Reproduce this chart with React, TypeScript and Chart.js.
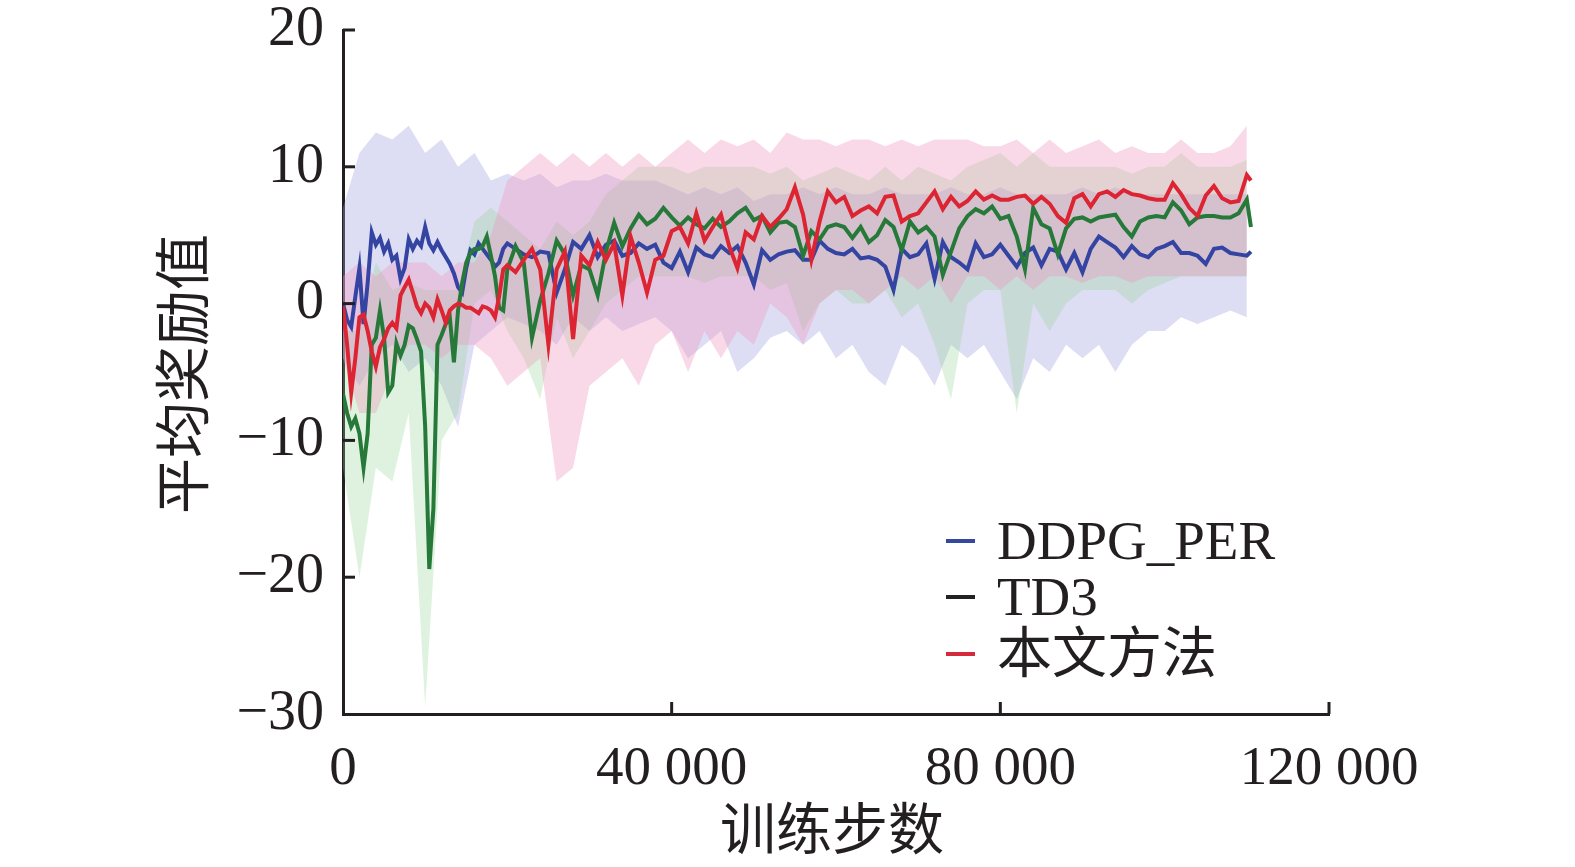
import React, { useEffect, useRef } from 'react';
import Chart from 'chart.js/auto';

// training steps for the mean curves (0.5k spacing to 20k, then 1k)
const steps = [
  0, 500, 1000, 1500, 2000, 2500, 3000, 3500, 4000, 4500,
  5000, 5500, 6000, 6500, 7000, 7500, 8000, 8500, 9000, 9500,
  10000, 10500, 11000, 11500, 12000, 12500, 13000, 13500, 14000, 14500,
  15000, 15500, 16000, 16500, 17000, 17500, 18000, 18500, 19000, 19500,
  20000,
  21000, 22000, 23000, 24000, 25000, 26000, 27000, 28000, 29000, 30000,
  31000, 32000, 33000, 34000, 35000, 36000, 37000, 38000, 39000, 40000,
  41000, 42000, 43000, 44000, 45000, 46000, 47000, 48000, 49000, 50000,
  51000, 52000, 53000, 54000, 55000, 56000, 57000, 58000, 59000, 60000,
  61000, 62000, 63000, 64000, 65000, 66000, 67000, 68000, 69000, 70000,
  71000, 72000, 73000, 74000, 75000, 76000, 77000, 78000, 79000, 80000,
  81000, 82000, 83000, 84000, 85000, 86000, 87000, 88000, 89000, 90000,
  91000, 92000, 93000, 94000, 95000, 96000, 97000, 98000, 99000, 100000,
  101000, 102000, 103000, 104000, 105000, 106000, 107000, 108000, 109000, 110000,
  110500
];

const ddpgPer = [
  0, -1.2, -1.7, 0.5, 2.6, -1.5, 1.5, 5.2, 4.3, 4.8,
  3.8, 4.4, 3.2, 3.5, 1.8, 2.6, 4.7, 4.0, 4.6, 4.2,
  5.6, 4.4, 3.9, 4.5, 3.9, 3.4, 2.9, 2.2, 1.2, 0.8,
  2.6, 3.9, 3.6, 4.4, 4.0, 3.6, 3.2, 2.7, 3.0, 4.0,
  4.4,
  4.0, 3.6, 3.4, 3.8, 3.7, 0.8, 2.5, 4.5, 4.0, 5.0,
  3.4, 4.3, 4.6, 3.5, 3.7, 4.4, 4.0, 4.3, 3.0, 2.6,
  3.8, 2.3, 4.1, 3.6, 3.4, 4.2, 3.7, 4.2, 3.0, 1.4,
  3.9, 3.2, 3.6, 3.8, 3.9, 3.2, 3.2, 4.6, 4.0, 3.7,
  3.6, 4.0, 3.3, 3.4, 3.2, 2.7, 1.0, 4.0, 3.4, 3.6,
  4.4, 1.8, 4.5, 3.4, 3.0, 2.5, 4.4, 3.4, 3.6, 4.3,
  3.5, 2.7, 3.7, 4.1, 2.8, 4.0, 3.8, 2.5, 3.7, 2.3,
  4.0, 4.9, 4.5, 4.1, 3.4, 4.2, 3.6, 3.4, 4.0, 4.2,
  4.5, 3.7, 3.7, 3.5, 2.9, 4.0, 4.1, 3.7, 3.6, 3.5,
  3.8
];

const td3 = [
  -6.6, -8.0, -9.0, -8.4, -9.5, -12.0, -9.5, -3.0, -2.5, -0.5,
  -2.5, -6.5, -6.0, -2.9, -3.8, -3.0, -1.6, -1.8, -2.6, -3.5,
  -9.0, -19.4, -15.0, -3.0, -2.3, -1.5, -1.0, -4.3, -0.5, 1.5,
  3.0, 3.7, 4.0, 4.0, 4.2, 4.9, 3.5, 2.0, -0.3, -0.5,
  2.5,
  4.2, 3.0, -2.5, 0.2, 2.2, 4.6, 3.6, 0.6, 2.8, 2.5,
  0.6, 3.8, 5.9, 4.2, 5.5, 6.5, 5.8, 6.2, 7.0, 6.3,
  5.7, 6.3, 5.8, 5.5, 6.2, 5.6, 6.0, 6.6, 7.0, 6.1,
  6.4, 5.2, 5.9, 6.0, 5.6, 3.5, 5.3, 4.7, 5.6, 5.8,
  5.6, 4.8, 5.6, 4.5, 5.0, 6.1, 5.6, 3.9, 6.0, 5.2,
  5.6, 4.9, 2.1, 3.8, 5.5, 6.4, 6.9, 6.6, 7.1, 6.2,
  6.4, 4.9, 2.5, 7.0, 5.8, 5.5, 3.6, 5.5, 6.2, 6.3,
  6.0, 6.3, 6.4, 6.5, 5.6, 4.9, 6.0, 6.3, 6.4, 6.3,
  7.4, 6.8, 5.8, 6.3, 6.4, 6.4, 6.3, 6.3, 6.6, 7.6,
  5.6
];

const ours = [
  -0.2, -3.0, -6.5, -4.0, -1.0, -0.8, -2.0, -3.5, -4.6, -3.2,
  -2.6, -1.8, -1.4, -1.8, 0.6, 1.2, 1.75, 0.8, -0.2, -0.7,
  0.0, -0.3, -1.0, 0.3, -0.5, -1.4, -0.5, -0.2, 0.0, -0.1,
  -0.3, -0.3, -0.5, -0.7, -0.2, -0.3, -0.5, -1.0, 0.5, 2.5,
  2.8,
  2.3, 3.2, 4.0, 2.5, -3.0, 2.5, 3.8, -2.6, 3.5, 2.8,
  4.5, 3.2, 4.4, 0.6, 4.9, 3.0, 0.8, 3.2, 3.5, 5.3,
  5.6, 4.4, 6.6, 4.6, 5.6, 6.5, 4.2, 2.6, 5.2, 4.7,
  6.4, 5.6, 6.2, 6.9, 8.5, 6.5, 3.2, 6.0, 8.2, 7.4,
  7.8, 6.4, 6.8, 7.1, 6.6, 7.8, 7.9, 6.0, 6.4, 6.6,
  7.4, 8.2, 6.9, 7.8, 7.1, 7.5, 8.2, 7.6, 7.9, 7.6,
  7.6, 7.8, 7.9, 7.3, 7.8, 7.3, 6.4, 5.9, 7.7, 8.0,
  7.1, 8.0, 8.2, 7.8, 8.3, 8.0, 7.9, 7.7, 7.6, 7.6,
  8.8, 8.0, 7.0, 6.4, 7.9, 8.6, 7.7, 7.4, 7.5, 9.4,
  9.0
];

// shaded spread around each curve, every 2k steps
const bandSteps = [
  0, 2000, 4000, 6000, 8000, 10000, 12000, 14000, 16000, 18000,
  20000, 22000, 24000, 26000, 28000, 30000, 32000, 34000, 36000, 38000,
  40000, 42000, 44000, 46000, 48000, 50000, 52000, 54000, 56000, 58000,
  60000, 62000, 64000, 66000, 68000, 70000, 72000, 74000, 76000, 78000,
  80000, 82000, 84000, 86000, 88000, 90000, 92000, 94000, 96000, 98000,
  100000, 102000, 104000, 106000, 108000, 110000
];

const ddpgUpper = [
  7, 11, 12.5, 12, 13, 11, 12, 10, 11, 9,
  9.5, 9, 9.5, 8.5, 9, 9, 9.5, 9, 9, 9,
  8.5, 8, 8.5, 8, 8.5, 7.5, 8, 8, 8.5, 8,
  8.5, 8, 8, 8.5, 8, 8, 8, 8.5, 8, 8,
  8.5, 8, 8, 8, 8, 8.5, 8, 8.5, 8, 8,
  8, 8, 8, 8, 8, 8
];
const ddpgLower = [
  -4, -6, -4, -3, -5, -4, -6, -9, -3, -2,
  -1, -1.5, -2, -3, -1, -2, -1, -2, -1.5, -1,
  -2, -4, -3, -2, -5, -4, -2.5, -2, -3, -2,
  -4, -3, -5, -6, -3, -4, -6, -3, -4, -3,
  -5, -7, -4, -5, -3, -4, -3, -5, -3, -2,
  -2, -1, -1.5, -1, -0.5, -1
];
const td3Upper = [
  -2, -2, 3, 1, 1.5, 1, 1, 1, 6, 7,
  6, 5, 4, 6, 5, 6, 8, 9, 10, 10,
  10, 9.5, 10, 10, 10, 10, 9.5, 10, 9, 9.5,
  10, 9.5, 9, 10, 9, 10, 9.5, 9, 10, 10.5,
  11, 10, 11, 10, 10, 10, 10, 10, 9.5, 10,
  10, 11, 10, 10, 10, 10.5
];
const td3Lower = [
  -12, -20, -12, -13, -8, -29.5, -10, -8, 0, 1,
  -2, -4, -7, -1, -4, -2, 0, 1, 2, 2,
  2, 2, 1.5, 2, 2, 2, 1, 1.5, -2, 0,
  1, 0, 0, 1, -1, 0, -3, -7, 0, 1,
  1, -8, 0, -2, 0, 1, 1, 1, 0, 1,
  1.5, 2, 2, 2, 2, 2
];
const oursUpper = [
  2, 3, 2, 3, 3, 3, 2, 3, 3, 5,
  9, 10, 11, 10, 11, 10, 11, 10, 11, 10,
  11, 12, 11, 12, 11.5, 12, 11, 12.5, 12, 12,
  11.5, 12, 12, 11.5, 12, 11.5, 12, 12, 12, 11.5,
  11.5, 12, 11, 12, 11, 11.5, 12, 11, 11.5, 11,
  11, 12, 11, 11, 11.5, 13
];
const oursLower = [
  -4, -8, -8, -5, -3, -3, -4, -3, -3, -4,
  -6, -5, -4, -13, -12, -6, -5, -4, -6, -3,
  -2, -5, -2, -4, -2, -3, 0, -1, -3, 0,
  1, 1, 0, 1, 2, 1, 2, 0, 2, 2,
  1, 2, 1, 2, 2, 1.5, 2, 2, 1.5, 2,
  2, 2, 2, 2, 2, 2
];

const seriesNames = ['DDPG_PER', 'TD3', '本文方法'];
const lineColors = ['#3444a2', '#27793a', '#dc2433'];
const legendMarks = ['#3548a0', '#222222', '#d42a3a'];
const bandColors = ['rgba(160,160,222,0.36)', 'rgba(150,212,150,0.3)', 'rgba(238,150,188,0.36)'];

const xLabel = '训练步数';
const yLabel = '平均奖励值';
const ink = '#231f20';
const serif = "'Liberation Serif', 'Noto Sans CJK SC', serif";

const pts = (xs: number[], ys: number[]) => xs.map((x, i) => ({ x, y: ys[i] }));

// inward tick marks, as in the original figure
const innerTicks = {
  id: 'innerTicks',
  afterDraw(chart: any) {
    const { ctx, chartArea } = chart;
    const xs = chart.scales.x;
    const ys = chart.scales.y;
    ctx.save();
    ctx.strokeStyle = ink;
    ctx.lineWidth = 3;
    xs.ticks.forEach((t: any) => {
      if (t.value === 0) return;
      const px = xs.getPixelForValue(t.value);
      ctx.beginPath();
      ctx.moveTo(px, chartArea.bottom);
      ctx.lineTo(px, chartArea.bottom - 12);
      ctx.stroke();
    });
    ys.ticks.forEach((t: any) => {
      if (t.value === -30) return;
      const py = ys.getPixelForValue(t.value);
      ctx.beginPath();
      ctx.moveTo(chartArea.left, py);
      ctx.lineTo(chartArea.left + 12, py);
      ctx.stroke();
    });
    ctx.restore();
  }
};

const App: React.FC = () => {
  const canvasRef = useRef<HTMLCanvasElement | null>(null);

  useEffect(() => {
    const ctx = canvasRef.current?.getContext('2d');
    if (!ctx) return;

    const band = (up: number[], lo: number[], color: string, order: number) => [
      { data: pts(bandSteps, up), borderWidth: 0, pointRadius: 0, backgroundColor: color, fill: '+1', order },
      { data: pts(bandSteps, lo), borderWidth: 0, pointRadius: 0, backgroundColor: color, fill: false, order }
    ];
    const line = (ys: number[], color: string, order: number) => ({
      data: pts(steps, ys), borderColor: color, borderWidth: 4, pointRadius: 0, fill: false, order
    });

    const chart = new Chart(ctx, {
      type: 'line',
      data: {
        datasets: [
          ...band(ddpgUpper, ddpgLower, bandColors[0], 6),
          ...band(td3Upper, td3Lower, bandColors[1], 5),
          ...band(oursUpper, oursLower, bandColors[2], 4),
          line(ddpgPer, lineColors[0], 2),
          line(td3, lineColors[1], 1),
          line(ours, lineColors[2], 0)
        ] as any
      },
      options: {
        responsive: false,
        animation: false,
        layout: { padding: { top: 30, right: 246, left: 0, bottom: 0 } },
        plugins: { legend: { display: false }, tooltip: { enabled: false } },
        scales: {
          x: {
            type: 'linear',
            min: 0,
            max: 120000,
            afterFit: (s: any) => { s.height = 153; },
            grid: { display: true, drawOnChartArea: false, drawTicks: false },
            border: { display: true, color: ink, width: 3 },
            ticks: {
              stepSize: 40000,
              padding: 28,
              color: ink,
              maxRotation: 0,
              font: { family: serif, size: 55, lineHeight: 1 },
              callback: (v: any) => String(v).replace(/\B(?=(\d{3})+(?!\d))/g, ' ')
            }
          },
          y: {
            min: -30,
            max: 20,
            afterFit: (s: any) => { s.width = 343; },
            grid: { display: true, drawOnChartArea: false, drawTicks: false },
            border: { display: true, color: ink, width: 3 },
            ticks: {
              stepSize: 10,
              padding: 19,
              color: ink,
              font: { family: serif, size: 56, lineHeight: 0.1 },
              callback: (v: any) => (v < 0 ? '\u2212' + Math.abs(v) : String(v))
            }
          }
        }
      },
      plugins: [innerTicks]
    });

    return () => {
      chart.destroy();
    };
  }, []);

  return (
    <div style={{ position: 'fixed', left: 0, top: 0, width: 1575, height: 867, background: '#fff', color: ink }}>
      <canvas ref={canvasRef} width={1575} height={867} style={{ position: 'absolute', left: 0, top: 0 }} />
      <div
        style={{
          position: 'absolute', left: 184, top: 374, transform: 'translate(-50%, -50%) rotate(-90deg)',
          fontFamily: serif, fontSize: 56, lineHeight: 1, whiteSpace: 'nowrap'
        }}
      >
        {yLabel}
      </div>
      <div
        style={{
          position: 'absolute', left: 832, top: 830, transform: 'translate(-50%, -50%)',
          fontFamily: serif, fontSize: 56, lineHeight: 1, whiteSpace: 'nowrap'
        }}
      >
        {xLabel}
      </div>
      {seriesNames.map((name, i) => {
        const cy = [541, 597, 654][i];
        return (
          <div key={name}>
            <div style={{ position: 'absolute', left: 946, top: cy - 2, width: 29, height: 4, background: legendMarks[i] }} />
            <div
              style={{
                position: 'absolute', left: 997, top: cy - 28, fontFamily: serif, fontSize: 55,
                lineHeight: '55px', whiteSpace: 'nowrap'
              }}
            >
              {name}
            </div>
          </div>
        );
      })}
    </div>
  );
};

export default App;
